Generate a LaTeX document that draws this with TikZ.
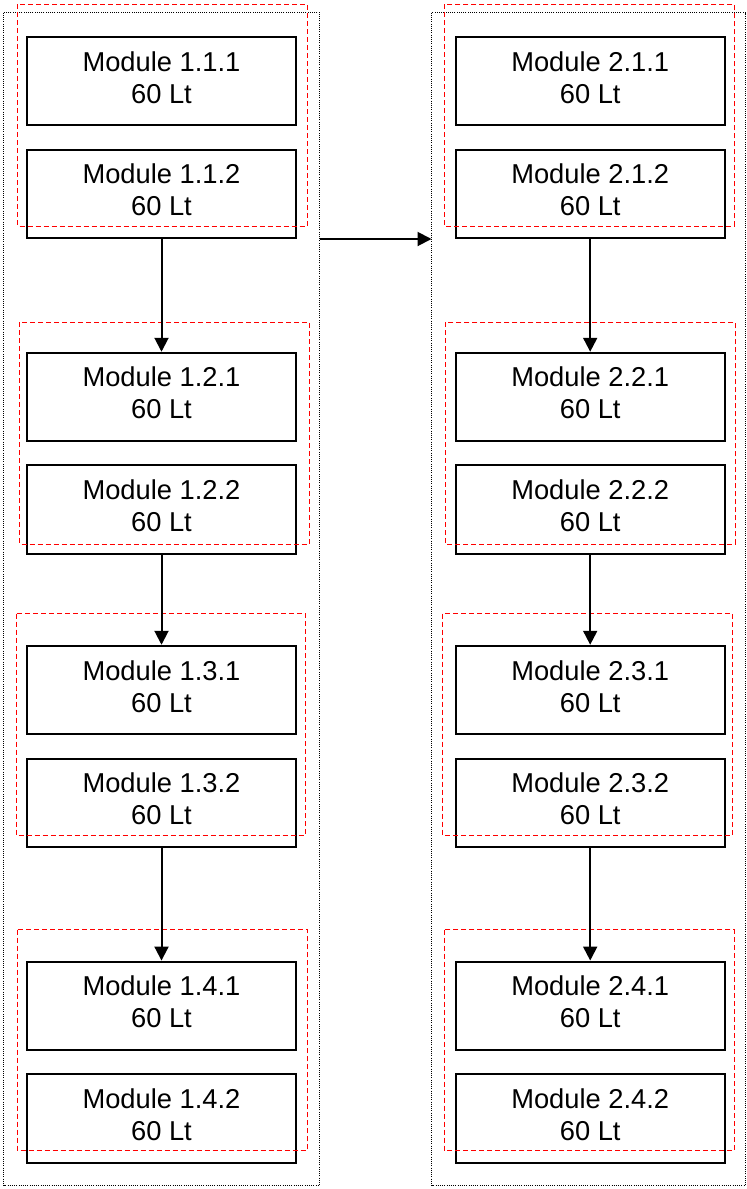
\documentclass[tikz,border=0pt]{standalone}
\usepackage{fontspec}
\setmainfont{Liberation Sans}
\usetikzlibrary{arrows.meta}
\definecolor{grpred}{RGB}{255,0,0}
\tikzset{
  module/.style={draw=black, line width=2pt, rectangle, inner sep=0pt,
    minimum width=269pt, minimum height=88.3pt, align=center,
    font=\fontsize{27.3}{32}\selectfont, text depth=7.6pt},
  grp/.style={draw=grpred, line width=1.5pt, dash pattern=on 5pt off 3pt},
  colbox/.style={draw=black, line width=1pt, dash pattern=on 1pt off 1.2pt},
  arr/.style={draw=black, line width=2pt, -{Triangle[length=14pt,width=14pt]}}
}
\begin{document}
\begin{tikzpicture}[x=1pt,y=-1pt]
\useasboundingbox (0,0) rectangle (747,1189);
% outer dotted columns
\draw[colbox] (3.5,12.5) rectangle (319.5,1185.5);
\draw[colbox] (431.5,12.5) rectangle (745.5,1185.5);
% modules
\foreach \c/\x in {1/161.5, 2/590.2}{
  \node[module] (m\c11) at (\x,81)     {Module \c.1.1\\60 Lt};
  \node[module] (m\c12) at (\x,193.7)  {Module \c.1.2\\60 Lt};
  \node[module] (m\c21) at (\x,396.9)  {Module \c.2.1\\60 Lt};
  \node[module] (m\c22) at (\x,509.5)  {Module \c.2.2\\60 Lt};
  \node[module] (m\c31) at (\x,689.9)  {Module \c.3.1\\60 Lt};
  \node[module] (m\c32) at (\x,802.7)  {Module \c.3.2\\60 Lt};
  \node[module] (m\c41) at (\x,1005.7) {Module \c.4.1\\60 Lt};
  \node[module] (m\c42) at (\x,1118.5) {Module \c.4.2\\60 Lt};
}
% red dashed groups
\draw[grp] (17.7,4.3) rectangle (307.3,226.3);
\draw[grp] (19.7,322.3) rectangle (309.3,544.3);
\draw[grp] (16.3,613.7) rectangle (305.3,835.3);
\draw[grp] (17.7,929.7) rectangle (307.3,1150.7);
\draw[grp] (444.3,4.3) rectangle (734.3,226.3);
\draw[grp] (445.3,322.3) rectangle (735.3,544.3);
\draw[grp] (442.7,613.7) rectangle (732.7,835.3);
\draw[grp] (444.3,929.7) rectangle (734.3,1150.7);
% arrows
\foreach \c in {1,2}{
  \draw[arr] (m\c12.south) -- (m\c21.north);
  \draw[arr] (m\c22.south) -- (m\c31.north);
  \draw[arr] (m\c32.south) -- (m\c41.north);
}
\coordinate (a1) at (319.5,239);
\coordinate (a2) at (431.5,239);
\draw[arr] (a1) -- (a2);
\end{tikzpicture}
\end{document}
